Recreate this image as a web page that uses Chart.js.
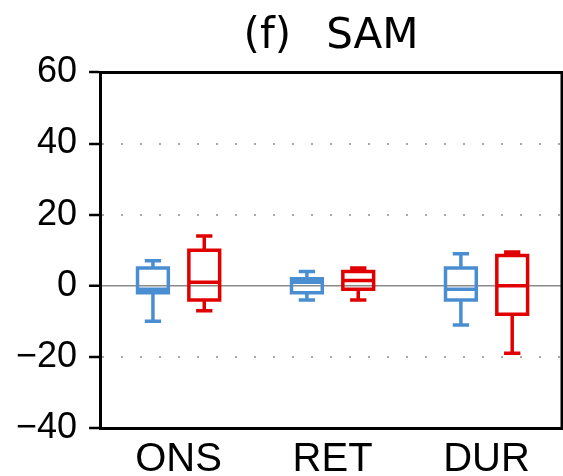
<!DOCTYPE html>
<html>
<head>
<meta charset="utf-8">
<script src="https://cdn.jsdelivr.net/npm/chart.js@4/dist/chart.umd.min.js"></script>
<style>
  html, body { margin: 0; padding: 0; background: #fff; }
  canvas { display: block; }
</style>
</head>
<body>
<canvas id="chart" width="563" height="476"></canvas>
<script>
// categorie e statistiche dei box (min, q1, mediana, q3, max)
const categories = ['ONS', 'RET', 'DUR']

const blueLow    = [-10, -4, -11]
const blueQ1     = [-2, -2, -4]
const blueMedian = [-1, 1, -1]
const blueQ3     = [5, 2, 5]
const blueHigh   = [7, 4, 9]

const redLow     = [-7, -4, -19]
const redQ1      = [-4, -1, -8]
const redMedian  = [1, 1.5, 0]
const redQ3      = [10, 4, 8.5]
const redHigh    = [14, 5, 9.5]

const yTicks = [-40, -20, 0, 20, 40, 60]

const BLUE = 'rgb(74,142,210)'
const RED  = 'rgb(225,0,0)'

// ————————————————————————————
// linee del box plot (box, mediana, baffi)
// ————————————————————————————
const OFFSET = 1/6, HALF_BOX = 0.1, HALF_CAP = 0.053

function boxLines(low, q1, med, q3, high, shift) {
  const pts = []
  const gap = x => pts.push({ x, y: null })
  categories.forEach((_, i) => {
    const x = i + shift
    pts.push({x: x-HALF_BOX, y: q1[i]}, {x: x+HALF_BOX, y: q1[i]}, {x: x+HALF_BOX, y: q3[i]},
             {x: x-HALF_BOX, y: q3[i]}, {x: x-HALF_BOX, y: q1[i]}, {x: x+HALF_BOX, y: q1[i]}); gap(x)
    pts.push({x: x-HALF_BOX, y: med[i]}, {x: x+HALF_BOX, y: med[i]}); gap(x)
    pts.push({x, y: q3[i]}, {x, y: high[i]}); gap(x)
    pts.push({x: x-HALF_CAP, y: high[i]}, {x: x+HALF_CAP, y: high[i]}); gap(x)
    pts.push({x, y: q1[i]}, {x, y: low[i]}); gap(x)
    pts.push({x: x-HALF_CAP, y: low[i]}, {x: x+HALF_CAP, y: low[i]}); gap(x)
  })
  return pts
}

const lineStyle = color => ({
  showLine: true, borderColor: color, borderWidth: 3.5, pointRadius: 0,
  borderJoinStyle: 'miter', borderCapStyle: 'butt', spanGaps: false, tension: 0
})

const isZero = c => c.tick && c.tick.value === 0

// cornice sopra e a destra
const frame = {
  id: 'frame',
  afterDraw(chart) {
    const { ctx, chartArea: a } = chart
    ctx.save()
    ctx.strokeStyle = '#000'
    ctx.lineWidth = 3
    ctx.beginPath()
    ctx.moveTo(a.left, a.top); ctx.lineTo(a.right, a.top); ctx.lineTo(a.right, a.bottom)
    ctx.stroke()
    ctx.restore()
  }
}

new Chart(document.getElementById('chart'), {
  type: 'scatter',
  data: {
    datasets: [
      { data: boxLines(blueLow, blueQ1, blueMedian, blueQ3, blueHigh, -OFFSET), ...lineStyle(BLUE) },
      { data: boxLines(redLow, redQ1, redMedian, redQ3, redHigh, OFFSET), ...lineStyle(RED) }
    ]
  },
  options: {
    responsive: false,
    animation: false,
    layout: { padding: { left: 4, right: 1, top: 0, bottom: -8 } },
    plugins: {
      legend: { display: false },
      tooltip: { enabled: false },
      title: {
        display: true, fullSize: false, text: '(f)  \u2009SAM', color: '#000',
        font: { family: 'DejaVu Sans', size: 42, weight: 'normal' },
        padding: { top: 12, bottom: 10 }
      }
    },
    scales: {
      x: {
        type: 'linear', min: -0.51, max: 2.49,
        afterBuildTicks: s => { s.ticks = categories.map((_, i) => ({ value: i })) },
        ticks: {
          callback: v => categories[v], color: '#000', padding: 0, maxRotation: 0, autoSkip: false,
          font: { family: 'Liberation Sans', size: 40 }
        },
        grid: { display: false },
        border: { color: '#000', width: 3 }
      },
      y: {
        min: -40, max: 60,
        afterBuildTicks: s => { s.ticks = yTicks.map(v => ({ value: v })) },
        ticks: {
          callback: v => v < 0 ? '\u2212' + Math.abs(v) : String(v),
          color: '#000', padding: 12,
          font: { family: 'Liberation Sans', size: 36 }
        },
        grid: {
          color: c => isZero(c) ? '#8a8a8a' : '#a8a8a8',
          lineWidth: c => isZero(c) ? 1.5 : 2,
          tickColor: '#000', tickWidth: 2.5, tickLength: 11, tickBorderDash: []
        },
        border: {
          color: '#000', width: 3,
          dash: c => (!c.tick || isZero(c)) ? [] : [2, 17]
        }
      }
    }
  },
  plugins: [frame]
})
</script>
</body>
</html>
